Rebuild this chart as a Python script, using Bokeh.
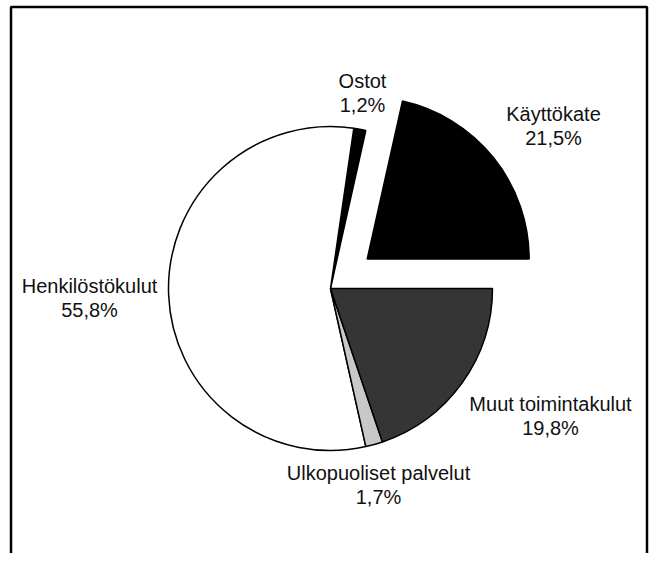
import math
from bokeh.plotting import figure
from bokeh.models import Range1d, ColumnDataSource
from bokeh.core.properties import value
from bokeh.embed import file_html
from bokeh.resources import INLINE

# data (counter-clockwise from 3 o'clock)
categories = ["Käyttökate", "Ostot", "Henkilöstökulut", "Ulkopuoliset palvelut", "Muut toimintakulut"]
shares = [21.5, 1.2, 55.8, 1.7, 19.8]
value_labels = ["21,5%", "1,2%", "55,8%", "1,7%", "19,8%"]

# styles / layout
colors = ["#000000", "#000000", "#ffffff", "#c8c8c8", "#353535"]
explode = [47, 0, 0, 0, 0]
label_xy = [(553, 113), (362, 80), (89, 285), (378, 472), (550, 403)]

W, H = 650, 553
p = figure(width=W, height=H, output_backend="svg", toolbar_location=None,
           x_range=Range1d(0, W), y_range=Range1d(0, H), min_border=0)
p.axis.visible = False
p.grid.visible = False
p.outline_line_color = None
p.background_fill_color = "white"

def py(y):
    return H - y

cx, cy, r = 330, py(288), 162
total = sum(shares)
starts, ends, xs, ys = [], [], [], []
acc = 0.0
for s, e in zip(shares, explode):
    a0 = acc / total * 2 * math.pi
    acc += s
    a1 = acc / total * 2 * math.pi
    mid = (a0 + a1) / 2
    starts.append(a0)
    ends.append(a1)
    xs.append(cx + e * math.cos(mid))
    ys.append(cy + e * math.sin(mid))

src = ColumnDataSource(dict(x=xs, y=ys, start=starts, end=ends, color=colors, cat=categories))
p.wedge(x="x", y="y", radius=r, start_angle="start", end_angle="end", source=src,
        fill_color="color", line_color="black", line_width=1.5)

# frame
p.line(x=[10.5, 10.5, 646.5, 646.5], y=[-5, py(6.5), py(6.5), -5], line_color="black", line_width=2.5)

lx = [q[0] for q in label_xy]
ly = [py(q[1]) for q in label_xy]
ly2 = [py(q[1] + 24) for q in label_xy]
p.text(x=lx, y=ly, text=categories, text_align="center", text_baseline="middle",
       text_font=value("Liberation Sans"), text_font_size="20px", text_color="#111111")
p.text(x=lx, y=ly2, text=value_labels, text_align="center", text_baseline="middle",
       text_font=value("Liberation Sans"), text_font_size="20px", text_color="#111111")

open("out.html", "w").write(file_html(p, INLINE))
